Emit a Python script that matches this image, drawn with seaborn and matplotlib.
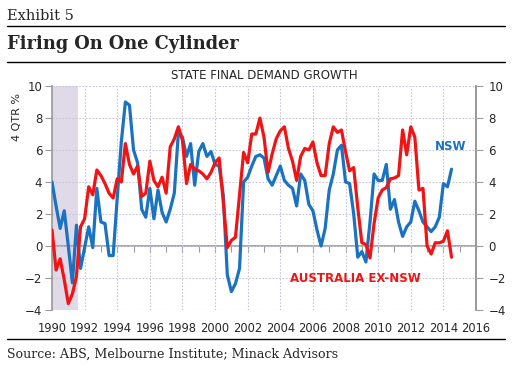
import numpy as np
import pandas as pd
import matplotlib
matplotlib.use("Agg")
import matplotlib.pyplot as plt
from matplotlib.lines import Line2D
import seaborn as sns

# quarterly 4-qtr growth (1990Q1 .. 2014Q3)
nsw = [4.0, 2.5, 1.1, 2.2, 0.0, -2.3, 1.3, -1.4, -0.1, 1.2,
       -0.1, 3.6, 1.5, 1.4, -0.6, -0.6, 3.0, 6.5, 9.0, 8.8,
       6.0, 5.2, 2.3, 1.8, 3.6, 1.7, 3.5, 2.1, 1.5, 2.3,
       3.3, 7.1, 6.8, 5.6, 6.4, 3.8, 5.9, 6.4, 5.6, 5.9,
       5.1, 5.0, 3.2, -1.8, -2.85, -2.35, -1.4, 4.0, 4.3, 5.0,
       5.6, 5.7, 5.5, 4.2, 3.8, 4.4, 5.0, 4.1, 3.8, 3.6,
       2.5, 4.5, 4.1, 2.6, 2.2, 1.0, 0.0, 1.1, 3.5, 4.5,
       6.0, 6.3, 4.0, 3.9, 2.0, -0.7, -0.35, -1.0, 1.5, 4.5,
       4.1, 4.1, 5.1, 2.3, 2.9, 1.5, 0.6, 1.2, 1.5, 2.8,
       2.2, 1.5, 1.2, 0.9, 1.2, 1.8, 3.9, 3.7, 4.8]
ex_nsw = [1.0, -1.5, -0.8, -2.1, -3.6, -3.0, -1.9, 1.2, 1.7, 3.7,
          3.2, 4.75, 4.4, 3.9, 3.3, 3.0, 4.2, 4.0, 6.4, 5.1,
          4.5, 5.0, 3.1, 3.3, 5.3, 4.1, 3.7, 4.3, 3.3, 6.2,
          6.7, 7.45, 6.6, 3.9, 5.1, 4.8, 4.7, 4.5, 4.2, 4.6,
          5.2, 5.5, 2.8, -0.1, 0.35, 0.55, 3.2, 5.85, 5.2, 7.0,
          7.0, 8.0, 6.8, 4.6, 5.75, 6.7, 7.2, 7.45, 6.1, 5.3,
          4.1, 5.6, 6.1, 6.0, 6.5, 5.2, 4.4, 4.4, 6.4, 7.45,
          7.1, 7.25, 5.9, 4.7, 4.9, 2.4, 0.2, 0.1, -0.75, 1.4,
          3.0, 3.5, 3.65, 4.2, 4.25, 4.4, 7.25, 5.7, 7.45, 6.8,
          3.5, 3.6, 0.0, -0.5, 0.2, 0.2, 0.3, 0.95, -0.7]
series_names = ["NSW", "AUSTRALIA EX-NSW"]
recession = (1990.0, 1991.6)
year_ticks = list(range(1990, 2017, 2))
value_ticks = list(range(-4, 11, 2))

quarters = pd.period_range("1990Q1", periods=len(nsw), freq="Q")
t = quarters.year + (quarters.quarter - 1) / 4.0
df = pd.DataFrame({"t": np.concatenate([t, t]),
                   "val": nsw + ex_nsw,
                   "series": [series_names[0]] * len(nsw) + [series_names[1]] * len(ex_nsw)})

sns.set_style("white")
plt.rcParams["font.family"] = ["DejaVu Sans"]

blue = "#1a72c0"
red = "#f01414"
grey = "#9a9a9a"

fig = plt.figure(figsize=(5.17, 3.72), dpi=100)
ax = fig.add_axes([52 / 517, 1 - 310 / 372, 424 / 517, 224 / 372])

ax.axvspan(*recession, color="#e0d9e8", lw=0, zorder=0)
sns.lineplot(data=df, x="t", y="val", hue="series", palette=[blue, red],
             linewidth=2.3, legend=False, ax=ax, zorder=3)

ax.set_xlim(1990, 2016)
ax.set_ylim(-4, 10)
ax.set_xticks(year_ticks)
ax.set_yticks(value_ticks)
ax.grid(True, ls=(0, (1.5, 1.5)), color="#c6c6da", lw=0.8)
ax.set_xlabel("")
ax.set_ylabel("")
for s in ["top", "bottom"]:
    ax.spines[s].set_visible(False)
for s in ["left", "right"]:
    ax.spines[s].set_color(grey)
    ax.spines[s].set_linewidth(1.2)
ax.tick_params(axis="x", length=0, pad=9, labelsize=8.3)
ax.tick_params(axis="y", length=5, color=grey, pad=2, labelsize=8.5, direction="out")

ax2 = ax.twinx()
ax2.set_ylim(-4, 10)
ax2.set_yticks(value_ticks)
for s in ["top", "bottom", "left"]:
    ax2.spines[s].set_visible(False)
ax2.spines["right"].set_color(grey)
ax2.spines["right"].set_linewidth(1.2)
ax2.tick_params(axis="y", length=5, color=grey, pad=4, labelsize=8.5, direction="out")

# zero line with yearly ticks
zero = ax.secondary_xaxis(4 / 14)
zero.set_xticks(range(1990, 2017))
zero.tick_params(length=4, color=grey, labelbottom=False, labeltop=False, direction="out")
zero.spines["bottom"].set_color(grey)
zero.spines["bottom"].set_linewidth(1.2)

ax.set_title("STATE FINAL DEMAND GROWTH", fontsize=8.5, pad=5)
ax.text(-0.083, 0.86, "4 QTR %", rotation=90, fontsize=8, ha="center", va="center",
        transform=ax.transAxes)
ax.text(2013.5, 6.2, series_names[0], color=blue, fontsize=8.5, fontweight="bold", va="center")
ax.text(2004.6, -2.0, series_names[1], color=red, fontsize=8.5, fontweight="bold", va="center")

fig.text(7 / 517, 1 - 16 / 372, "Exhibit 5", family="DejaVu Serif", fontsize=10.5, va="center")
fig.text(7 / 517, 1 - 44 / 372, "Firing On One Cylinder", family="DejaVu Serif",
         fontweight="bold", fontsize=12.8, va="center")
fig.text(7 / 517, 1 - 354 / 372, "Source: ABS, Melbourne Institute; Minack Advisors",
         family="DejaVu Serif", fontsize=9.1, va="center")
for yy in [26, 62, 339]:
    fig.add_artist(Line2D([7 / 517, 505 / 517], [1 - yy / 372, 1 - yy / 372],
                          color="black", lw=1.0))

fig.savefig("out.png", dpi=100)
